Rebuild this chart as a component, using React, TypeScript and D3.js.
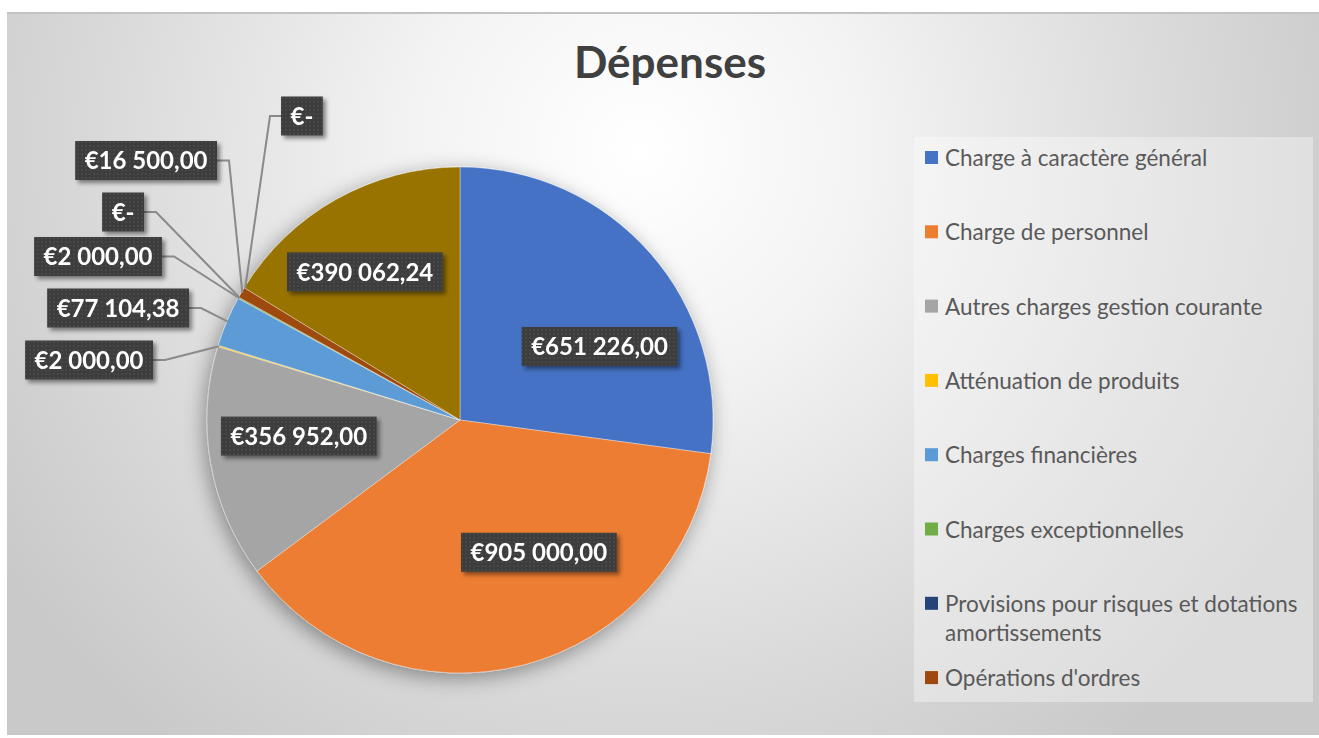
import React from 'react';
import * as d3 from 'd3';

// ---------- data ----------
const title = 'Dépenses';
const categories = [
  'Charge à caractère général',
  'Charge de personnel',
  'Autres charges gestion courante',
  'Atténuation de produits',
  'Charges financières',
  'Charges exceptionnelles',
  'Provisions pour risques et dotations amortissements',
  "Opérations d'ordres",
  'Dépenses imprévues',
  "Virement à la section d'investissement",
];
const values = [651226, 905000, 356952, 2000, 77104.38, 2000, 0, 16500, 0, 390062.24];
const colors = ['#4472C4', '#ED7D31', '#A5A5A5', '#FFC000', '#5B9BD5', '#70AD47', '#264478', '#9E480E', '#636363', '#997300'];
const legendShown = 8; // the legend box only has room for the first 8 entries

// ---------- layout ----------
const W = 1319;
const H = 738;
const CX = 460;
const CY = 420;
const R = 253;
const LABEL_FONT_SIZE = 24;
const LEGEND_FONT_SIZE = 22.5;
const FONT = 'Lato, "Open Sans", sans-serif';

// inside labels: [angle in degrees (clockwise from top), radius]
const insideLabelPolar: Record<number, [number, number]> = {
  0: [62.2, 157.7],
  1: [149.2, 154],
  2: [264.3, 162],
  9: [327.3, 176],
};
// outside labels: attach edge x, centre y, side of the box the leader leaves from
const outsideLabelAnchor: Record<number, { x: number; y: number; side: 'left' | 'right' }> = {
  3: { x: 153, y: 360, side: 'right' },
  4: { x: 189, y: 308, side: 'right' },
  5: { x: 162, y: 256.5, side: 'right' },
  6: { x: 144, y: 212, side: 'right' },
  7: { x: 217, y: 160.5, side: 'right' },
  8: { x: 281, y: 116, side: 'left' },
};

const locale = d3.formatLocale({ decimal: ',', thousands: ' ', grouping: [3], currency: ['€', ''] });
const fmt = locale.format('$,.2f');
const fmtVal = (v: number) => (v === 0 ? '€-' : fmt(v));

let _ctx: CanvasRenderingContext2D | null = null;
function measure(text: string, font: string): number {
  if (!_ctx) _ctx = document.createElement('canvas').getContext('2d');
  if (!_ctx) return text.length * 10;
  _ctx.font = font;
  return _ctx.measureText(text).width;
}

function wrap(text: string, font: string, maxW: number): string[] {
  const words = text.split(' ');
  const lines: string[] = [];
  let cur = '';
  for (const w of words) {
    const t = cur ? cur + ' ' + w : w;
    if (cur && measure(t, font) > maxW) {
      lines.push(cur);
      cur = w;
    } else cur = t;
  }
  if (cur) lines.push(cur);
  return lines;
}

const polar = (angDeg: number, r: number): [number, number] => {
  const a = (angDeg * Math.PI) / 180;
  return [CX + r * Math.sin(a), CY - r * Math.cos(a)];
};

export default function App() {
  const pie = d3
    .pie<number>()
    .sort(null)
    .value((d) => d)
    .startAngle(0)
    .endAngle(2 * Math.PI);
  const arcs = pie(values);
  const arcGen = d3
    .arc<d3.PieArcDatum<number>>()
    .innerRadius(0)
    .outerRadius(R);

  const labelFont = `bold ${LABEL_FONT_SIZE}px ${FONT}`;
  const legendFont = `${LEGEND_FONT_SIZE}px ${FONT}`;
  const boxH = 39;
  const pad = 9.5;

  const labels = arcs.map((a, i) => {
    const text = fmtVal(values[i]);
    const tw = measure(text, labelFont);
    const bw = tw + pad * 2;
    if (insideLabelPolar[i]) {
      const [ang, r] = insideLabelPolar[i];
      const [x, y] = polar(ang, r);
      return { i, text, x, y, bw, leader: null as null | string };
    }
    const anc = outsideLabelAnchor[i];
    const x = anc.side === 'right' ? anc.x - bw / 2 : anc.x + bw / 2;
    const mid = ((a.startAngle + a.endAngle) / 2) * (180 / Math.PI);
    const [ex, ey] = polar(mid, R - 1);
    const kx = anc.side === 'right' ? anc.x + 12 : anc.x - 11;
    const path = d3.path();
    path.moveTo(anc.x, anc.y);
    path.lineTo(kx, anc.y);
    path.lineTo(ex, ey);
    return { i, text, x, y: anc.y, bw, leader: path.toString() };
  });

  const legendX = 925;
  const legendY0 = 166;
  const legendStep = 74.3;

  return (
    <svg
      width={W}
      height={H}
      style={{ position: 'absolute', left: 0, top: 0, display: 'block' }}
      fontFamily={FONT}
    >
      <defs>
        <radialGradient id="bg" gradientUnits="userSpaceOnUse" cx={640} cy={150} r={760}>
          <stop offset="0" stopColor="#ffffff" />
          <stop offset="0.3" stopColor="#f3f3f3" />
          <stop offset="0.7" stopColor="#dadada" />
          <stop offset="1" stopColor="#c9c9c9" />
        </radialGradient>
        <filter id="pieShadow" x="-20%" y="-20%" width="140%" height="140%">
          <feDropShadow dx={-3} dy={5} stdDeviation={10} floodColor="#000" floodOpacity={0.38} />
        </filter>
        <filter id="boxShadow" x="-20%" y="-30%" width="140%" height="170%">
          <feDropShadow dx={3} dy={3} stdDeviation={2} floodColor="#000" floodOpacity={0.45} />
        </filter>
        <pattern id="dots" width={4} height={4} patternUnits="userSpaceOnUse">
          <rect width={4} height={4} fill="#3c3c3c" />
          <circle cx={2} cy={2} r={0.7} fill="#585858" />
        </pattern>
      </defs>

      <rect x={0} y={0} width={W} height={H} fill="#ffffff" />
      <rect x={7} y={12} width={W - 7} height={723} fill="url(#bg)" />
      <line x1={7} x2={W} y1={13} y2={13} stroke="#c3c3c3" strokeWidth={2} />

      <text
        x={670}
        y={78}
        textAnchor="middle"
        fontSize={44}
        fontWeight="bold"
        fill="#404040"
      >
        {title}
      </text>

      {/* legend */}
      <rect x={914} y={137} width={399} height={565} fill="#ffffff" fillOpacity={0.35} />
      {categories.slice(0, legendShown).map((c, i) => {
        const by = legendY0 + i * legendStep;
        const lines = wrap(c, legendFont, 362);
        return (
          <g key={c}>
            <rect x={legendX} y={by - 15} width={13} height={13} fill={colors[i]} />
            <text x={945} y={by} fontSize={LEGEND_FONT_SIZE} fill="#595959">
              {lines.map((l, k) => (
                <tspan key={k} x={945} dy={k === 0 ? 0 : 29}>
                  {l}
                </tspan>
              ))}
            </text>
          </g>
        );
      })}

      {/* pie */}
      <g filter="url(#pieShadow)">
        {arcs.map((a, i) => (
          <path
            key={i}
            d={arcGen(a) || ''}
            transform={`translate(${CX},${CY})`}
            fill={colors[i]}
            stroke="#ffffff"
            strokeOpacity={0.45}
            strokeWidth={a.value > 0 ? 0.8 : 0}
          />
        ))}
      </g>

      {/* leader lines */}
      {labels
        .filter((l) => l.leader)
        .map((l) => (
          <path key={'ld' + l.i} d={l.leader!} fill="none" stroke="#8a8a8a" strokeWidth={2} />
        ))}

      {/* data labels */}
      {labels.map((l) => (
        <g key={'lb' + l.i}>
          <rect
            x={l.x - l.bw / 2}
            y={l.y - boxH / 2}
            width={l.bw}
            height={boxH}
            fill="url(#dots)"
            filter="url(#boxShadow)"
          />
          <text
            x={l.x}
            y={l.y + LABEL_FONT_SIZE * 0.36}
            textAnchor="middle"
            fontSize={LABEL_FONT_SIZE}
            fontWeight="bold"
            fill="#ffffff"
          >
            {l.text}
          </text>
        </g>
      ))}
    </svg>
  );
}
